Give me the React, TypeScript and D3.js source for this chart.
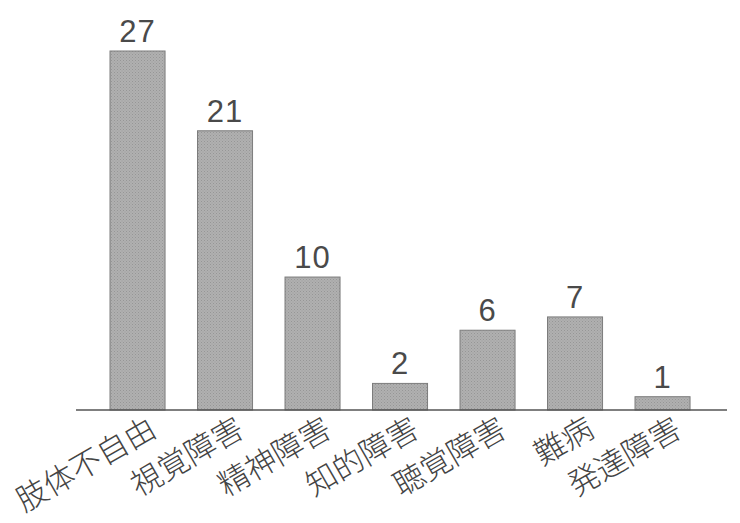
import React, { useEffect } from "react";
import { scaleBand, scaleLinear } from "d3";

const categories = ["肢体不自由", "視覚障害", "精神障害", "知的障害", "聴覚障害", "難病", "発達障害"];
const values = [27, 21, 10, 2, 6, 7, 1];

const W = 740;
const H = 523;
const baseY = 410;

export default function App() {
    useEffect(() => {
        document.body.style.margin = "0";
    }, []);

    const x = scaleBand<string>()
        .domain(categories)
        .range([66.25, 733.8])
        .paddingInner(0.371)
        .paddingOuter(0.5);
    const y = scaleLinear().domain([0, 27]).range([baseY, 51]);

    return (
        <svg width={W} height={H} style={{ display: "block", background: "#fff" }}>
            <defs>
                <pattern id="dots" width="3" height="3" patternUnits="userSpaceOnUse">
                    <rect width="3" height="3" fill="#b0b0b0" />
                    <rect x="0" y="0" width="1" height="1" fill="#969696" />
                    <rect x="1.5" y="1.5" width="1" height="1" fill="#9c9c9c" />
                </pattern>
            </defs>
            {/* bars */}
            {categories.map((c, i) => {
                const bx = x(c) ?? 0;
                const by = y(values[i]);
                return (
                    <g key={c}>
                        <rect
                            x={bx}
                            y={by}
                            width={x.bandwidth()}
                            height={baseY - by}
                            fill="url(#dots)"
                            stroke="#7c7c7c"
                            strokeWidth={1}
                        />
                        <text
                            x={bx + x.bandwidth() / 2}
                            y={by - 9}
                            textAnchor="middle"
                            fontFamily="'Liberation Sans', Arial, sans-serif"
                            fontSize={31}
                            letterSpacing={1}
                            fill="#4a4a4a"
                        >
                            {values[i]}
                        </text>
                    </g>
                );
            })}
            {/* axis line */}
            <line x1={76} x2={727} y1={baseY} y2={baseY} stroke="#555" strokeWidth={1.5} />
            {/* category labels */}
            {categories.map((c) => {
                const cx = (x(c) ?? 0) + x.bandwidth() / 2 + 21;
                const cy = 435;
                return (
                    <text
                        key={c}
                        transform={`translate(${cx},${cy}) rotate(-30)`}
                        textAnchor="end"
                        fontFamily="'Noto Sans CJK JP', sans-serif"
                        fontWeight={300}
                        fontSize={31}
                        fill="#444"
                    >
                        {c}
                    </text>
                );
            })}
        </svg>
    );
}
